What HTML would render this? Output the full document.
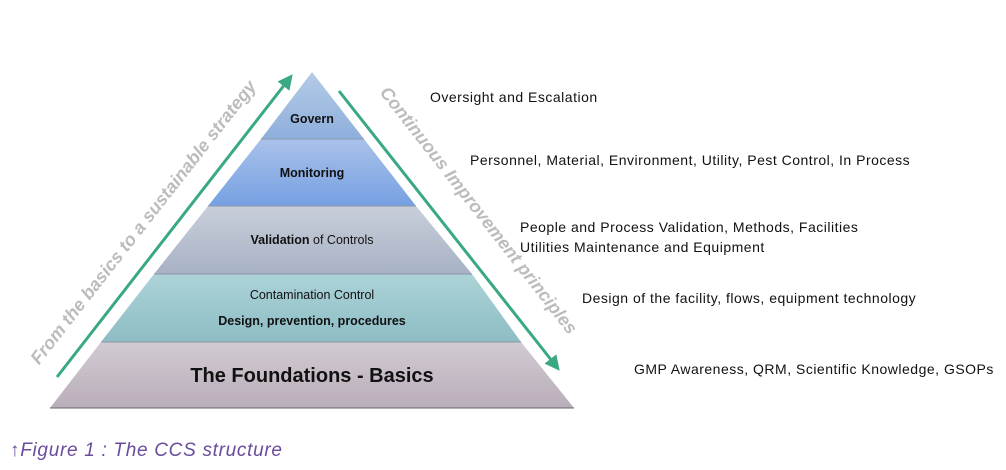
<!DOCTYPE html>
<html><head><style>
body{margin:0;width:1006px;height:470px;background:#fff;overflow:hidden;font-family:"Liberation Sans",sans-serif;}
.r{position:absolute;font-size:14px;letter-spacing:0.5px;color:#111;white-space:nowrap;}
</style></head><body>
<svg width="1006" height="470" style="position:absolute;left:0;top:0" font-family="Liberation Sans, sans-serif">
<defs>
<linearGradient id="g1" x1="0" y1="0" x2="0" y2="1"><stop offset="0" stop-color="#b4cbe6"/><stop offset="1" stop-color="#8eafdc"/></linearGradient>
<linearGradient id="g2" x1="0" y1="0" x2="0" y2="1"><stop offset="0" stop-color="#a9c2ea"/><stop offset="1" stop-color="#76a0e2"/></linearGradient>
<linearGradient id="g3" x1="0" y1="0" x2="0" y2="1"><stop offset="0" stop-color="#c8cfda"/><stop offset="1" stop-color="#a8b2c5"/></linearGradient>
<linearGradient id="g4" x1="0" y1="0" x2="0" y2="1"><stop offset="0" stop-color="#acd3d8"/><stop offset="1" stop-color="#8dbdc4"/></linearGradient>
<linearGradient id="g5" x1="0" y1="0" x2="0" y2="1"><stop offset="0" stop-color="#d2cbd3"/><stop offset="1" stop-color="#b9adb9"/></linearGradient>
<marker id="ah" markerWidth="5" markerHeight="5" refX="3" refY="2.5" orient="auto"><path d="M0,0 L5,2.5 L0,5 z" fill="#3aa882"/></marker>
</defs>
<polygon points="312,72 364,139 261,139" fill="url(#g1)"/>
<polygon points="261,139 364,139 416,206 208,206" fill="url(#g2)"/>
<polygon points="208,206 416,206 472,274 154,274" fill="url(#g3)"/>
<polygon points="154,274 472,274 521,342 101,342" fill="url(#g4)"/>
<polygon points="101,342 521,342 574,408 50,408" fill="url(#g5)"/>
<g stroke="#8a96a8" stroke-width="1"><line x1="261" y1="139" x2="364" y2="139"/><line x1="208" y1="206" x2="416" y2="206"/><line x1="154" y1="274" x2="472" y2="274"/><line x1="101" y1="342" x2="521" y2="342"/></g>
<line x1="50" y1="408" x2="574" y2="408" stroke="#666" stroke-width="1"/>
<line x1="57" y1="377" x2="289" y2="79" stroke="#3aa882" stroke-width="3" marker-end="url(#ah)"/>
<line x1="339" y1="91" x2="556" y2="366" stroke="#3aa882" stroke-width="3" marker-end="url(#ah)"/>
<text x="148" y="226" transform="rotate(-52 148 226)" text-anchor="middle" font-size="18" font-weight="bold" font-style="italic" fill="#bcbcbc">From the basics to a sustainable strategy</text>
<text x="474" y="214" transform="rotate(52 474 214)" text-anchor="middle" font-size="18" font-weight="bold" font-style="italic" fill="#bcbcbc">Continuous Improvement principles</text>
<g text-anchor="middle" fill="#111" font-size="12.5">
<text x="312" y="123" font-weight="bold">Govern</text>
<text x="312" y="177" font-weight="bold">Monitoring</text>
<text x="312" y="244"><tspan font-weight="bold">Validation</tspan> of Controls</text>
<text x="312" y="299">Contamination Control</text>
<text x="312" y="325" font-weight="bold">Design, prevention, procedures</text>
<text x="312" y="382" font-size="20" font-weight="bold">The Foundations - Basics</text>
</g>
</svg>
<div class="r" style="left:430px;top:89px">Oversight and Escalation</div>
<div class="r" style="left:470px;top:152px">Personnel, Material, Environment, Utility, Pest Control, In Process</div>
<div class="r" style="left:520px;top:219px">People and Process Validation, Methods, Facilities</div>
<div class="r" style="left:520px;top:239px">Utilities Maintenance and Equipment</div>
<div class="r" style="left:582px;top:290px">Design of the facility, flows, equipment technology</div>
<div class="r" style="left:634px;top:361px">GMP Awareness, QRM, Scientific Knowledge, GSOPs</div>
<div style="position:absolute;left:10px;top:440px;font-size:19px;letter-spacing:0.7px;font-style:italic;color:#6a4c9c;white-space:nowrap">↑Figure 1 : The CCS structure</div>
</body></html>
